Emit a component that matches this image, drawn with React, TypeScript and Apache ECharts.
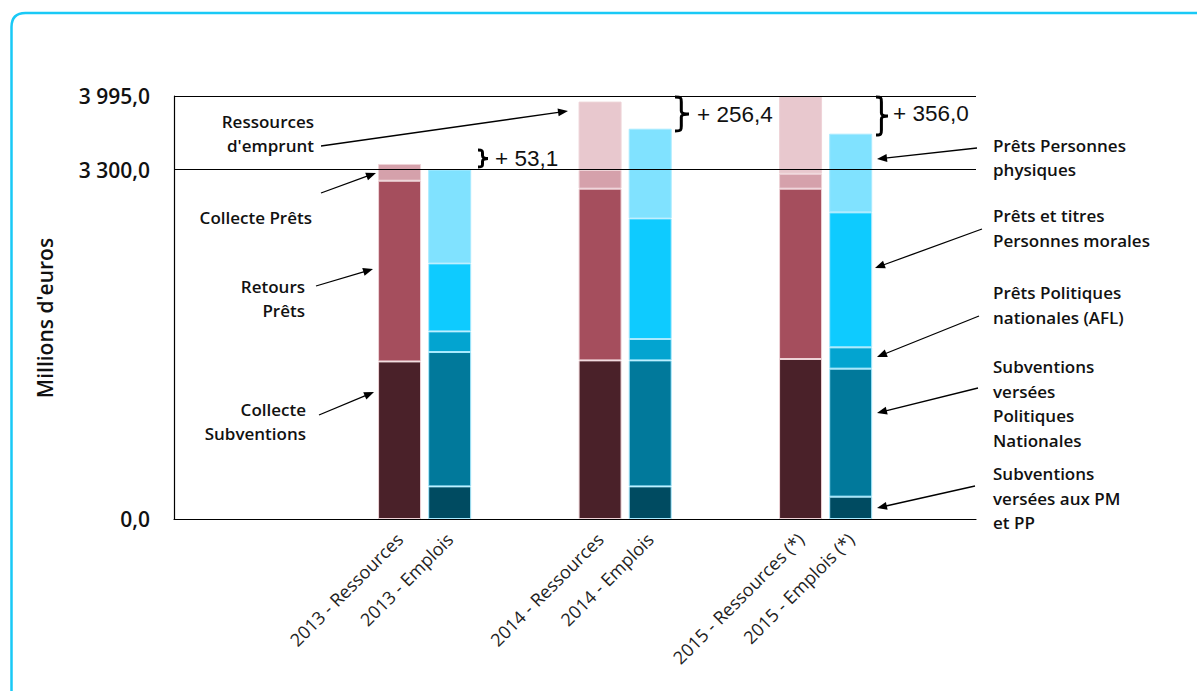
import React, { useEffect, useRef } from "react";
import * as echarts from "echarts";

// ---------- data ----------
const categories = [
  "_a", "_b", "_c", "_d",
  "2013 - Ressources", "2013 - Emplois",
  "_e", "_f",
  "2014 - Ressources", "2014 - Emplois",
  "_g", "_h",
  "2015 - Ressources (*)", "2015 - Emplois (*)",
  "_i", "_j",
];
const resourceSlots = [4, 8, 12];
const useSlots = [5, 9, 13];

// Ressources (2013, 2014, 2015)
const collecteSubventions = [1488, 1498, 1511];
const retoursPrets = [1707, 1622, 1609];
const collectePrets = [158, 176, 141];
const ressourcesEmprunt = [0, 646, 734];

// Emplois (2013, 2014, 2015)
const subvPMPP = [308, 308, 211];
const subvPolitiquesNationales = [1269, 1190, 1209];
const pretsAFL = [195, 202, 201];
const pretsPersonnesMorales = [642, 1139, 1275];
const pretsPersonnesPhysiques = [886, 847, 743];

const yTicks = [0, 3300, 3995];
const yMax = 3995;
const gaps = ["+ 53,1", "+ 256,4", "+ 356,0"];

// ---------- styling ----------
const LABEL_FONT = "'Open Sans', 'Noto Sans', sans-serif";
const NUM_FONT = "'Liberation Sans', Arial, sans-serif";

const fmtY = (v: number) => {
  const s = v.toFixed(1);
  const [i, d] = s.split(".");
  return i.replace(/\B(?=(\d{3})+(?!\d))/g, " ") + "," + d;
};

const braceD = (w: number, h: number) => {
  const m = h / 2;
  const c = w * 0.45;
  const r = Math.min(5, h * 0.18);
  return `M0 0 C${c} 0 ${c} 1 ${c} ${r} L${c} ${m - 3} C${c} ${m - 1} ${w * 0.7} ${m} ${w} ${m} C${w * 0.7} ${m} ${c} ${m + 1} ${c} ${m + 3} L${c} ${h - r} C${c} ${h - 1} ${c} ${h} 0 ${h}`;
};
echarts.graphic.registerShape("brace2013", echarts.graphic.extendPath(braceD(10, 17), {}));
echarts.graphic.registerShape("brace2014", echarts.graphic.extendPath(braceD(14, 34), {}));
echarts.graphic.registerShape("brace2015", echarts.graphic.extendPath(braceD(12, 38), {}));
echarts.graphic.registerShape(
  "frameEdge",
  echarts.graphic.extendPath("M11.5 705 L11.5 27 Q11.5 13 25.5 13 L1250 13", {})
);

function slotData(values: number[], slots: number[]) {
  const arr: (number | null)[] = categories.map(() => null);
  slots.forEach((s, i) => {
    arr[s] = values[i] ? values[i] : null;
  });
  return arr;
}

function arrow(x1: number, y1: number, x2: number, y2: number) {
  const dx = x2 - x1;
  const dy = y2 - y1;
  const len = Math.sqrt(dx * dx + dy * dy);
  const ux = dx / len;
  const uy = dy / len;
  const L = 10;
  const W = 4;
  const bx = x2 - ux * L;
  const by = y2 - uy * L;
  return [
    {
      type: "line",
      shape: { x1, y1, x2: bx + ux * 2, y2: by + uy * 2 },
      style: { stroke: "#000", lineWidth: 1.3 },
      silent: true,
    },
    {
      type: "polygon",
      shape: {
        points: [
          [x2, y2],
          [bx - uy * W, by + ux * W],
          [bx + uy * W, by - ux * W],
        ],
      },
      style: { fill: "#000" },
      silent: true,
    },
  ];
}

function label(text: string, x: number, y: number, align: "left" | "right") {
  return {
    type: "text",
    x,
    y,
    silent: true,
    style: {
      text,
      fill: "#111",
      font: `600 17px ${LABEL_FONT}`,
      fontSize: 17,
      fontWeight: 600,
      fontFamily: LABEL_FONT,
      lineHeight: 24.5,
      align,
      textAlign: align,
      verticalAlign: "middle",
      textVerticalAlign: "middle",
    },
  };
}

export default function App() {
  const ref = useRef<HTMLDivElement>(null);

  useEffect(() => {
    if (!ref.current) return;
    const chart = echarts.init(ref.current, undefined, { renderer: "svg" });

    const resBorder = "#eed3d7";
    const empBorder = "#a8eaff";
    const mk = (name: string, values: number[], slots: number[], color: string, border: string) => ({
      name,
      type: "bar",
      stack: "total",
      barWidth: 43,
      data: slotData(values, slots),
      itemStyle: { color, borderColor: border, borderWidth: 1 },
      emphasis: { disabled: true },
      silent: true,
    });

    const series: any[] = [
      mk("Collecte Subventions", collecteSubventions, resourceSlots, "#4a2129", resBorder),
      mk("Retours Prêts", retoursPrets, resourceSlots, "#a54e5d", resBorder),
      mk("Collecte Prêts", collectePrets, resourceSlots, "#d5a1ab", resBorder),
      mk("Ressources d'emprunt", ressourcesEmprunt, resourceSlots, "#e8c8ce", resBorder),
      mk("Subventions versées aux PM et PP", subvPMPP, useSlots, "#004b61", empBorder),
      mk("Subventions versées Politiques Nationales", subvPolitiquesNationales, useSlots, "#01799b", empBorder),
      mk("Prêts Politiques nationales (AFL)", pretsAFL, useSlots, "#03a4d0", empBorder),
      mk("Prêts et titres Personnes morales", pretsPersonnesMorales, useSlots, "#0ecbff", empBorder),
      mk("Prêts Personnes physiques", pretsPersonnesPhysiques, useSlots, "#80e2ff", empBorder),
    ];
    series[0].markLine = {
      silent: true,
      symbol: ["none", "none"],
      label: { show: false },
      lineStyle: { color: "#000", width: 1, type: "solid" },
      data: [{ yAxis: 3300 }, { yAxis: yMax }],
    };

    const arrows = [
      arrow(321, 146, 568, 111),
      arrow(321, 193, 376, 173),
      arrow(316, 286, 373, 269),
      arrow(319, 415, 374, 392),
      arrow(977, 148, 877, 159),
      arrow(982, 229, 875, 268),
      arrow(979, 316, 877, 357),
      arrow(978, 388, 877, 413),
      arrow(975, 486, 877, 508),
    ].flat();

    const texts = [
      label("Ressources\nd'emprunt", 314, 133.5, "right"),
      label("Collecte Prêts", 312, 217, "right"),
      label("Retours\nPrêts", 305, 298.5, "right"),
      label("Collecte\nSubventions", 306, 421.5, "right"),
      label("Prêts Personnes\nphysiques", 993, 157.5, "left"),
      label("Prêts et titres\nPersonnes morales", 993, 228, "left"),
      label("Prêts Politiques\nnationales (AFL)", 993, 305, "left"),
      label("Subventions\nversées\nPolitiques\nNationales", 993, 403.5, "left"),
      label("Subventions\nversées aux PM\net PP", 993, 498, "left"),
    ];

    const numStyle = (text: string) => ({
      text,
      fill: "#111",
      font: `22.5px ${NUM_FONT}`,
      fontSize: 22.5,
      fontFamily: NUM_FONT,
      align: "left",
      textAlign: "left",
      verticalAlign: "middle",
      textVerticalAlign: "middle",
    });

    const braces = [
      { type: "brace2013", x: 478, y: 150, silent: true, style: { stroke: "#000", lineWidth: 3, fill: "none" } },
      { type: "brace2014", x: 675, y: 97, silent: true, style: { stroke: "#000", lineWidth: 3, fill: "none" } },
      { type: "brace2015", x: 876, y: 97, silent: true, style: { stroke: "#000", lineWidth: 3, fill: "none" } },
      { type: "text", x: 495, y: 158, silent: true, style: numStyle(gaps[0]) },
      { type: "text", x: 697, y: 114, silent: true, style: numStyle(gaps[1]) },
      { type: "text", x: 893, y: 113, silent: true, style: numStyle(gaps[2]) },
    ];

    const yTitle = {
      type: "text",
      x: 45,
      y: 318,
      rotation: Math.PI / 2,
      silent: true,
      style: {
        text: "Millions d'euros",
        fill: "#111",
        font: `600 21px ${LABEL_FONT}`,
        fontSize: 21,
        fontWeight: 600,
        fontFamily: LABEL_FONT,
        align: "center",
        textAlign: "center",
        verticalAlign: "middle",
        textVerticalAlign: "middle",
      },
    };

    const option: any = {
      animation: false,
      backgroundColor: "#fff",
      grid: { left: 174, right: 221, top: 96, bottom: 172, containLabel: false },
      xAxis: {
        type: "category",
        data: categories,
        axisLine: { show: true, lineStyle: { color: "#000", width: 1.2 } },
        axisTick: { show: false },
        axisLabel: {
          interval: 0,
          rotate: 45,
          margin: 17,
          color: "#222",
          fontSize: 18,
          fontFamily: LABEL_FONT,
          formatter: (v: string) => (v.startsWith("_") ? "" : v),
        },
      },
      yAxis: {
        type: "value",
        min: 0,
        max: yMax,
        axisLine: { show: true, lineStyle: { color: "#000", width: 1.2 } },
        axisTick: { show: false },
        splitLine: { show: false },
        axisLabel: {
          customValues: yTicks,
          formatter: (v: number) => fmtY(v),
          margin: 24,
          color: "#111",
          fontSize: 21,
          fontWeight: 600,
          fontFamily: LABEL_FONT,
        },
      },
      series,
      graphic: [
        {
          type: "frameEdge",
          silent: true,
          z: -10,
          style: { fill: "none", stroke: "#19c9f6", lineWidth: 2.5 },
        },
        yTitle,
        ...arrows,
        ...texts,
        ...braces,
      ],
    };

    chart.setOption(option);
    return () => chart.dispose();
  }, []);

  return (
    <div
      ref={ref}
      style={{ position: "absolute", left: 0, top: 0, width: 1197, height: 691, background: "#fff" }}
    />
  );
}
